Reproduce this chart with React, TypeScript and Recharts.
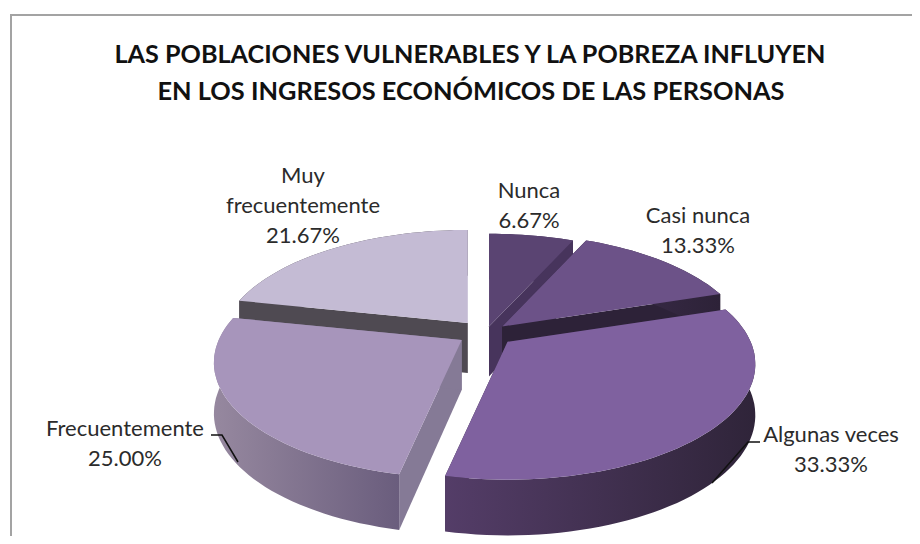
import { PieChart, Pie } from "recharts";

// painter's order: the back slices first, then the two front ones
const categories = ["Muy frecuentemente", "Nunca", "Casi nunca", "Algunas veces", "Frecuentemente"];
const shares = [21.67, 6.67, 13.33, 33.33, 25.0];
const labelLines = [["Muy", "frecuentemente"], ["Nunca"], ["Casi nunca"], ["Algunas veces"], ["Frecuentemente"]];

const topColors = ["#c4bbd4", "#5a4472", "#6c5288", "#7f619f", "#a795bb"];
const edgeColors = ["#4f4a52", "#47345c", "#2d2238", "#33263f", "#857a96"];
const wallLeft = ["#4f4a52", "#47345c", "#3d2e4c", "#543d68", "#96889f"];
const wallRight = ["#4f4a52", "#47345c", "#2d2238", "#2f2439", "#6a5d7d"];
const explode = [1, 0.5, 0.75, 1, 1];
const labelX = [303, 529, 698, 831, 125];
const labelY = [183, 198, 223, 442, 436];

const titleLines = ["LAS POBLACIONES VULNERABLES Y LA POBREZA INFLUYEN", "EN LOS INGRESOS ECONÓMICOS DE LAS PERSONAS"];

const data = categories.map((name, i) => ({ name, value: shares[i] }));

const FONT = "Lato, 'Open Sans', sans-serif";
const SQUASH = 0.457; // vertical scale of the tilted disc
const TILT = 0.195; // perspective strength
const DEPTH = 50;
const EXPLODE_X = 29;
const EXPLODE_Y = 13;

function project(cx: number, cy: number, r: number, clockDeg: number) {
  const a = (clockDeg * Math.PI) / 180;
  const v = -Math.cos(a);
  const s = 1 / (1 - TILT * v);
  return { x: cx + r * Math.sin(a) * s, y: cy + r * SQUASH * v * s, s };
}

function toPath(pts: { x: number; y: number }[]) {
  return pts.map((p, i) => `${i === 0 ? "M" : "L"}${p.x.toFixed(1)},${p.y.toFixed(1)}`).join(" ") + " Z";
}

function Slice3D(props: any) {
  const { cx, cy, outerRadius, startAngle, endAngle, index } = props;
  // recharts angles run counter-clockwise from 3 o'clock
  const from = 90 - startAngle;
  const to = 90 - endAngle;
  const mid = (((from + to) / 2) * Math.PI) / 180;
  const ox = cx + EXPLODE_X * explode[index] * Math.sin(mid);
  const oy = cy - EXPLODE_Y * explode[index] * Math.cos(mid);

  const rim: { x: number; y: number; s: number }[] = [];
  const steps = Math.ceil((to - from) / 2);
  for (let i = 0; i <= steps; i++) {
    rim.push(project(ox, oy, outerRadius, from + ((to - from) * i) / steps));
  }
  const drop = (p: { x: number; y: number; s: number }) => ({ x: p.x, y: p.y + DEPTH * Math.sqrt(p.s) });
  const apex = { x: ox, y: oy, s: 1 };
  const first = rim[0];
  const last = rim[rim.length - 1];
  const gradId = `wall-${index}`;

  return (
    <g>
      <defs>
        <linearGradient id={gradId} x1="0" y1="0" x2="1" y2="0">
          <stop offset="0%" stopColor={wallLeft[index]} />
          <stop offset="100%" stopColor={wallRight[index]} />
        </linearGradient>
      </defs>
      <path d={toPath([apex, first, drop(first), drop(apex)])} fill={edgeColors[index]} />
      <path d={toPath([apex, last, drop(last), drop(apex)])} fill={edgeColors[index]} />
      <path d={toPath([...rim, ...rim.map(drop).reverse()])} fill={`url(#${gradId})`} />
      <path d={toPath([apex, ...rim])} fill={topColors[index]} />
    </g>
  );
}

function SliceLabel(props: any) {
  const { index, value } = props;
  const lines = [...labelLines[index], `${value.toFixed(2)}%`];
  const x = labelX[index];
  return (
    <text x={x} y={labelY[index]} textAnchor="middle" fontFamily={FONT} fontSize={22} fill="#2b2b2b">
      {lines.map((line, i) => (
        <tspan key={line} x={x} dy={i === 0 ? 0 : 30}>
          {line}
        </tspan>
      ))}
    </text>
  );
}

function LeaderLine(props: any) {
  const { index } = props;
  if (categories[index] === "Algunas veces") {
    return <polyline points="760,442 748,442 712,483" fill="none" stroke="#111" strokeWidth={1.5} />;
  }
  if (categories[index] === "Frecuentemente") {
    return <polyline points="211,435 222,435 238,462" fill="none" stroke="#111" strokeWidth={1.5} />;
  }
  return <g />;
}

export default function App() {
  return (
    <div style={{ position: "relative", width: 920, height: 544, margin: -8, background: "#fff", overflow: "hidden" }}>
      <div style={{ position: "absolute", left: 10, top: 14, width: 910, height: 2, background: "#a3a3a3" }} />
      <div style={{ position: "absolute", left: 10, top: 14, width: 2, height: 530, background: "#a3a3a3" }} />
      <div style={{ position: "absolute", left: 0, top: 0 }}>
        <PieChart width={920} height={544} margin={{ top: 0, right: 0, bottom: 0, left: 0 }}>
          <text
            x={470}
            y={63}
            textAnchor="middle"
            fontFamily={FONT}
            fontWeight={700}
            fontSize={25}
            fill="#111"
            textLength={711}
            lengthAdjust="spacingAndGlyphs"
          >
            {titleLines[0]}
          </text>
          <text
            x={471}
            y={100}
            textAnchor="middle"
            fontFamily={FONT}
            fontWeight={700}
            fontSize={25}
            fill="#111"
            textLength={627}
            lengthAdjust="spacingAndGlyphs"
          >
            {titleLines[1]}
          </text>
          <Pie
            data={data}
            dataKey="value"
            nameKey="name"
            cx={486}
            cy={333}
            outerRadius={243}
            startAngle={168}
            endAngle={-192}
            stroke="none"
            shape={Slice3D}
            label={SliceLabel}
            labelLine={LeaderLine}
            isAnimationActive={false}
          />
        </PieChart>
      </div>
    </div>
  );
}
